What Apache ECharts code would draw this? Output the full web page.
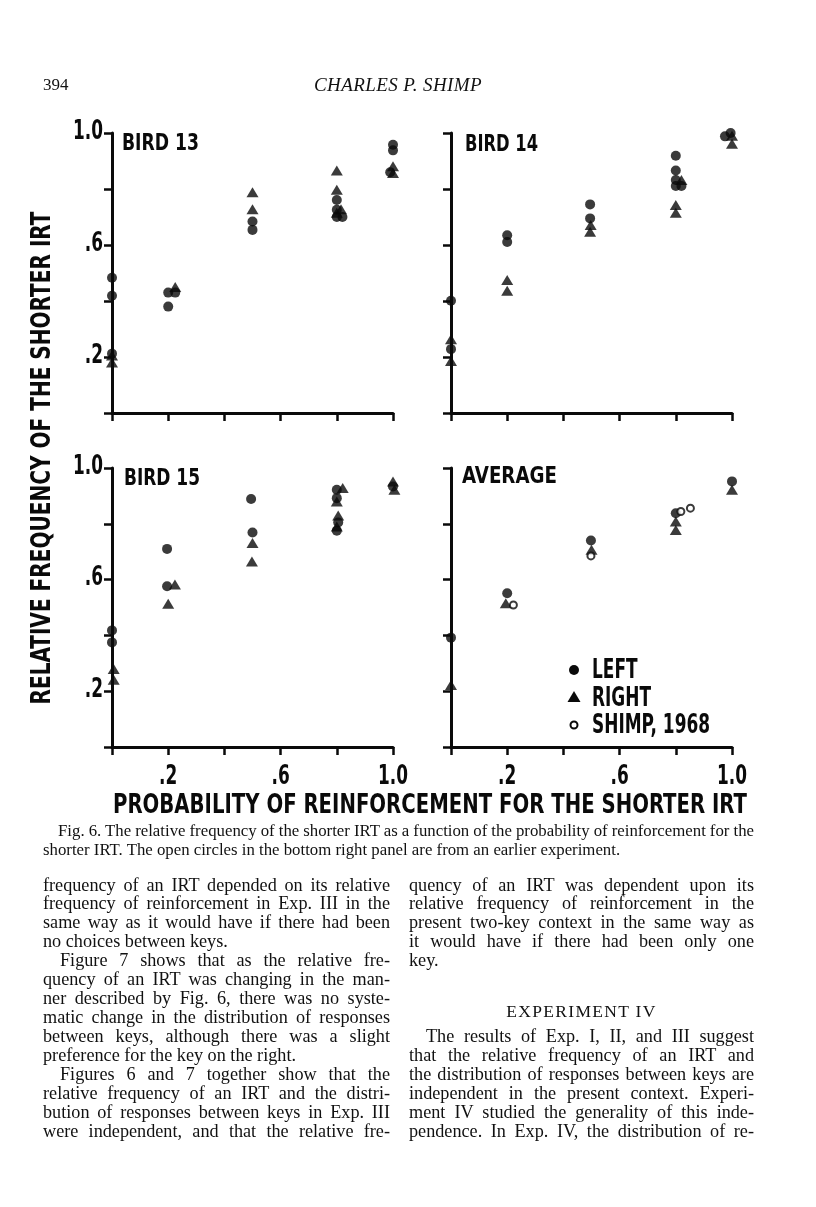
<!DOCTYPE html>
<html>
<head>
<meta charset="utf-8">
<script src="https://cdn.jsdelivr.net/npm/echarts@6/dist/echarts.min.js"></script>
<style>
  body { margin: 0; background: #fff; }
  #page { position: relative; width: 816px; height: 1207px; overflow: hidden; }
  #chart { position: absolute; left: 0; top: 0; width: 816px; height: 1207px; }
  .t { position: absolute; font-family: "Liberation Serif", "DejaVu Serif", serif; color: #111; white-space: nowrap; }
  .ln { height: 19px; line-height: 19px; font-size: 18.2px; }
  .cap { font-size: 16.8px; height: 19px; line-height: 19px; }
</style>
</head>
<body>
<div id="page">
  <div id="chart"></div>
  <div class="t" style="left:43px;top:75px;font-size:17px;">394</div>
  <div class="t" style="left:248px;top:74px;width:300px;text-align:center;font-size:19px;letter-spacing:0.4px;font-style:italic;">CHARLES P. SHIMP</div>
  <div id="body"></div>
</div>
<script>
// probability of reinforcement (x) vs relative frequency of shorter IRT (y)
var bird13Left = [[0, .483], [0, .419], [0, .212], [.2, .43], [.225, .43], [.2, .38], [.5, .684], [.5, .654],
  [.8, .761], [.8, .726], [.8, .70], [.82, .70], [1, .958], [1, .938], [.99, .86]];
var bird13Right = [[0, .205], [0, .18], [.225, .45], [.5, .788], [.5, .728], [.8, .866], [.8, .797],
  [.815, .728], [.8, .715], [1, .881], [1, .857]];

var bird14Left = [[0, .401], [0, .228], [.2, .635], [.2, .611], [.495, .745], [.495, .695], [.8, .919],
  [.8, .866], [.8, .832], [.82, .811], [.8, .811], [.995, 1.0], [.975, .988]];
var bird14Right = [[0, .263], [0, .186], [.2, .475], [.2, .437], [.497, .671], [.495, .647], [.82, .832],
  [.8, .743], [.8, .715], [1, .99], [1, .962]];

var bird15Left = [[0, .418], [0, .375], [.196, .710], [.196, .576], [.495, .889], [.5, .769], [.8, .922],
  [.8, .892], [.805, .805], [.8, .775], [1, .934]];
var bird15Right = [[.006, .280], [.006, .241], [.224, .582], [.2, .513], [.5, .731], [.498, .665], [.821, .928],
  [.8, .88], [.805, .83], [.8, .79], [1, .952], [1.005, .922]];

var avgLeft = [[0, .392], [.2, .551], [.498, .740], [.8, .838], [1, .952]];
var avgRight = [[0, .222], [.195, .515], [.5, .707], [.8, .808], [.8, .778], [1, .922]];
var shimp1968 = [[.222, .509], [.498, .685], [.818, .844], [.852, .856]];

var panelNames = ['BIRD 13', 'BIRD 14', 'BIRD 15', 'AVERAGE'];
var legendNames = ['LEFT', 'RIGHT', 'SHIMP, 1968'];
var tickValues = [0.2, 0.6, 1.0];
var tickLabels = ['.2', '.6', '1.0'];

var FONT = '"DejaVu Sans Condensed", "DejaVu Sans", sans-serif';
var INK = '#0a0a0a';

var grids = [
  {left: 112, top: 133, width: 281, height: 280},
  {left: 451, top: 133, width: 281, height: 280},
  {left: 112, top: 468, width: 281, height: 279},
  {left: 451, top: 468, width: 281, height: 279}
];

var xAxes = [], yAxes = [];
grids.forEach(function (g, i) {
  var ax = {
    gridIndex: i, type: 'value', min: 0, max: 1, interval: 0.2,
    axisLine: {lineStyle: {color: INK, width: 3}},
    axisTick: {inside: false, length: 8, lineStyle: {color: INK, width: 2.5}},
    splitLine: {show: false},
    axisLabel: {show: false}
  };
  xAxes.push(ax);
  yAxes.push(Object.assign({}, ax));
});

function dots(name, data, i) {
  return {name: name, type: 'scatter', xAxisIndex: i, yAxisIndex: i, data: data, clip: false,
    symbol: 'circle', symbolSize: 10, itemStyle: {color: INK}, z: 3};
}
function tris(name, data, i) {
  return {name: name, type: 'scatter', xAxisIndex: i, yAxisIndex: i, data: data, clip: false,
    symbol: 'triangle', symbolSize: [12, 10], itemStyle: {color: INK}, z: 4};
}

var series = [
  dots('LEFT', bird13Left, 0), tris('RIGHT', bird13Right, 0),
  dots('LEFT', bird14Left, 1), tris('RIGHT', bird14Right, 1),
  dots('LEFT', bird15Left, 2), tris('RIGHT', bird15Right, 2),
  dots('LEFT', avgLeft, 3), tris('RIGHT', avgRight, 3),
  {name: 'SHIMP, 1968', type: 'scatter', xAxisIndex: 3, yAxisIndex: 3, data: shimp1968, clip: false,
    symbol: 'circle', symbolSize: 7, itemStyle: {color: '#fff', borderColor: INK, borderWidth: 2}, z: 5}
];

var chart = echarts.init(document.getElementById('chart'));
chart.setOption({
  animation: false,
  backgroundColor: 'transparent',
  grid: grids,
  xAxis: xAxes,
  yAxis: yAxes,
  series: series
});

// the hand lettering is very narrow: squeeze text to its measured width
var mctx = document.createElement('canvas').getContext('2d');
function squeeze(text, size, width) {
  mctx.font = 'bold ' + size + 'px ' + FONT;
  return width / mctx.measureText(text).width;
}
function letter(text, x, y, size, width, align, rot) {
  return {type: 'text', x: x, y: y, rotation: rot || 0, scaleX: squeeze(text, size, width), z: 10,
    style: {text: text, font: 'bold ' + size + 'px ' + FONT, fill: INK,
      align: align, verticalAlign: 'middle', textAlign: align, textVerticalAlign: 'middle'}};
}

var g = [];
var titlePos = [[122, 144.5, 77], [465, 145, 73], [124, 479.5, 76], [462, 477, 95]];
panelNames.forEach(function (n, i) {
  g.push(letter(n, titlePos[i][0], titlePos[i][1], 23, titlePos[i][2], 'left'));
});
g.push(letter('PROBABILITY OF REINFORCEMENT FOR THE SHORTER IRT', 430, 806, 27, 634, 'center'));
g.push(letter('RELATIVE FREQUENCY OF THE SHORTER IRT', 43, 458, 27, 493, 'center', Math.PI / 2));

// tick labels, placed through the axes
var tickScale = squeeze('1.0', 26, 30);
tickValues.forEach(function (v, k) {
  [0, 2].forEach(function (gi) {
    var p = chart.convertToPixel({gridIndex: gi}, [0, v]);
    g.push({type: 'text', x: 103, y: p[1] - 1, scaleX: tickScale, z: 10,
      style: {text: tickLabels[k], font: 'bold 26px ' + FONT, fill: INK, align: 'right', verticalAlign: 'middle',
        textAlign: 'right', textVerticalAlign: 'middle'}});
  });
  [2, 3].forEach(function (gi) {
    var p = chart.convertToPixel({gridIndex: gi}, [v, 0]);
    g.push({type: 'text', x: p[0], y: 777, scaleX: tickScale, z: 10,
      style: {text: tickLabels[k], font: 'bold 26px ' + FONT, fill: INK, align: 'center', verticalAlign: 'middle',
        textAlign: 'center', textVerticalAlign: 'middle'}});
  });
});

// key in the AVERAGE panel
var legendScale = squeeze('SHIMP, 1968', 26, 118);
legendNames.forEach(function (n, k) {
  g.push({type: 'text', x: 592, y: 671.5 + k * 27.3, scaleX: legendScale, z: 10,
    style: {text: n, font: 'bold 26px ' + FONT, fill: INK, align: 'left', verticalAlign: 'middle',
      textAlign: 'left', textVerticalAlign: 'middle'}});
});
g.push({type: 'circle', shape: {cx: 574, cy: 670, r: 5}, style: {fill: INK}, z: 10});
g.push({type: 'polygon', shape: {points: [[574, 691], [580.5, 702], [567.5, 702]]}, style: {fill: INK}, z: 10});
g.push({type: 'circle', shape: {cx: 574, cy: 725, r: 3.5}, style: {fill: '#fff', stroke: INK, lineWidth: 2}, z: 10});

chart.setOption({graphic: g});

// caption and body text of the page
var captionLines = [
  ['Fig. 6. The relative frequency of the shorter IRT as a function of the probability of reinforcement for the', 'j', 58, 696],
  ['shorter IRT. The open circles in the bottom right panel are from an earlier experiment.', 'e', 43, 711]
];
var leftLines = [
  ['frequency of an IRT depended on its relative', 'j'],
  ['frequency of reinforcement in Exp. III in the', 'j'],
  ['same way as it would have if there had been', 'j'],
  ['no choices between keys.', 'e'],
  ['Figure 7 shows that as the relative fre-', 'i'],
  ['quency of an IRT was changing in the man-', 'j'],
  ['ner described by Fig. 6, there was no syste-', 'j'],
  ['matic change in the distribution of responses', 'j'],
  ['between keys, although there was a slight', 'j'],
  ['preference for the key on the right.', 'e'],
  ['Figures 6 and 7 together show that the', 'i'],
  ['relative frequency of an IRT and the distri-', 'j'],
  ['bution of responses between keys in Exp. III', 'j'],
  ['were independent, and that the relative fre-', 'j']
];
var rightLines = [
  ['quency of an IRT was dependent upon its', 'j', 0],
  ['relative frequency of reinforcement in the', 'j', 1],
  ['present two-key context in the same way as', 'j', 2],
  ['it would have if there had been only one', 'j', 3],
  ['key.', 'e', 4],
  ['The results of Exp. I, II, and III suggest', 'i', 8],
  ['that the relative frequency of an IRT and', 'j', 9],
  ['the distribution of responses between keys are', 'j', 10],
  ['independent in the present context. Experi-', 'j', 11],
  ['ment IV studied the generality of this inde-', 'j', 12],
  ['pendence. In Exp. IV, the distribution of re-', 'j', 13]
];
var bodyEl = document.getElementById('body');
function addLine(cls, txt, kind, x, w, top) {
  var d = document.createElement('div');
  d.className = 't ' + cls;
  var ind = kind === 'i' ? 17 : 0;
  d.style.left = (x + ind) + 'px';
  d.style.top = top + 'px';
  d.textContent = txt;
  bodyEl.appendChild(d);
  if (kind !== 'e') {
    var gaps = txt.split(' ').length - 1;
    var extra = (w - ind) - d.getBoundingClientRect().width;
    d.style.wordSpacing = (extra / gaps) + 'px';
  }
}
captionLines.forEach(function (l, i) { addLine('cap', l[0], l[1], l[2], l[3], 820.5 + i * 19); });
leftLines.forEach(function (l, i) { addLine('ln', l[0], l[1], 43, 347, 875.5 + i * 18.93); });
rightLines.forEach(function (l) { addLine('ln', l[0], l[1], 409, 345, 875.5 + l[2] * 18.93); });
var h = document.createElement('div');
h.className = 't';
h.style.cssText = 'left:409px;top:1002px;width:345px;text-align:center;font-size:17.5px;letter-spacing:1.3px;line-height:19px;';
h.textContent = 'EXPERIMENT IV';
bodyEl.appendChild(h);
</script>
</body>
</html>
